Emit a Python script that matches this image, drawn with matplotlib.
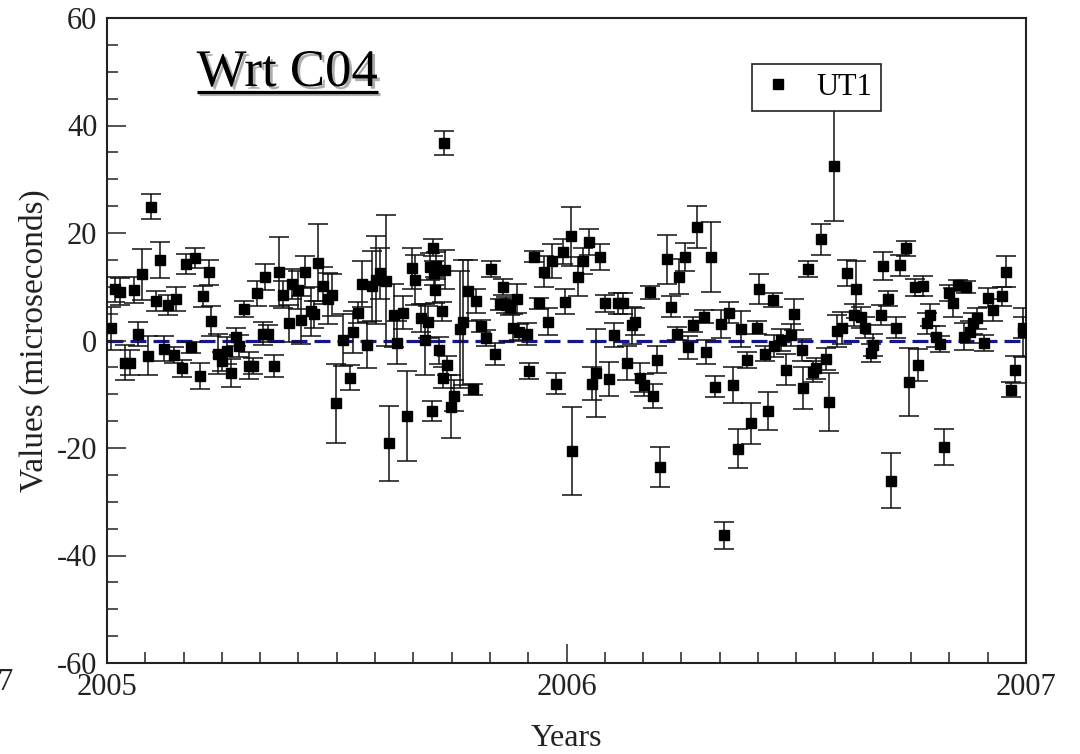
import matplotlib
matplotlib.use("Agg")
import matplotlib.pyplot as plt
import matplotlib.patheffects as pe
from matplotlib.ticker import MultipleLocator, FormatStrFormatter
from matplotlib.lines import Line2D

plt.rcParams['font.family'] = ['Liberation Serif', 'DejaVu Serif']
plt.rcParams['axes.unicode_minus'] = False

years = [
    2005.009, 2005.017, 2005.028, 2005.039, 2005.050, 2005.059, 2005.068, 2005.076, 2005.089, 2005.095,
    2005.106, 2005.115, 2005.125, 2005.133, 2005.146, 2005.150, 2005.164, 2005.173, 2005.182, 2005.192,
    2005.203, 2005.210, 2005.222, 2005.226, 2005.242, 2005.250, 2005.261, 2005.269, 2005.280, 2005.288,
    2005.299, 2005.308, 2005.317, 2005.326, 2005.339, 2005.344, 2005.351, 2005.364, 2005.374, 2005.384,
    2005.395, 2005.402, 2005.416, 2005.422, 2005.431, 2005.445, 2005.451, 2005.460, 2005.471, 2005.480,
    2005.489, 2005.498, 2005.513, 2005.529, 2005.536, 2005.547, 2005.556, 2005.566, 2005.577, 2005.585,
    2005.594, 2005.607, 2005.613, 2005.625, 2005.632, 2005.644, 2005.652, 2005.663, 2005.670, 2005.683,
    2005.691, 2005.699, 2005.703, 2005.707, 2005.709, 2005.712, 2005.714, 2005.716, 2005.723, 2005.728,
    2005.731, 2005.734, 2005.736, 2005.739, 2005.749, 2005.756, 2005.768, 2005.775, 2005.786, 2005.797,
    2005.803, 2005.814, 2005.825, 2005.836, 2005.844, 2005.855, 2005.862, 2005.868, 2005.876, 2005.883,
    2005.892, 2005.897, 2005.913, 2005.919, 2005.930, 2005.940, 2005.950, 2005.960, 2005.969, 2005.977,
    2005.992, 2005.997, 2006.010, 2006.013, 2006.026, 2006.035, 2006.049, 2006.055, 2006.064, 2006.073,
    2006.084, 2006.093, 2006.104, 2006.111, 2006.124, 2006.131, 2006.142, 2006.149, 2006.160, 2006.169,
    2006.182, 2006.188, 2006.196, 2006.203, 2006.219, 2006.227, 2006.240, 2006.245, 2006.258, 2006.265,
    2006.276, 2006.283, 2006.299, 2006.303, 2006.314, 2006.323, 2006.336, 2006.343, 2006.354, 2006.362,
    2006.374, 2006.380, 2006.392, 2006.401, 2006.414, 2006.419, 2006.432, 2006.438, 2006.449, 2006.452,
    2006.467, 2006.478, 2006.488, 2006.495, 2006.512, 2006.515, 2006.525, 2006.537, 2006.543, 2006.554,
    2006.565, 2006.572, 2006.583, 2006.589, 2006.599, 2006.611, 2006.626, 2006.630, 2006.641, 2006.650,
    2006.663, 2006.668, 2006.684, 2006.688, 2006.700, 2006.706, 2006.717, 2006.726, 2006.738, 2006.745,
    2006.758, 2006.764, 2006.775, 2006.784, 2006.791, 2006.804, 2006.813, 2006.822, 2006.832, 2006.842,
    2006.851, 2006.864, 2006.869, 2006.878, 2006.884, 2006.893, 2006.909, 2006.918, 2006.929, 2006.948,
    2006.956, 2006.967, 2006.976, 2006.993, 2006.994,
]

ut1 = [
    2.3, 9.5, 9.1, -4.1, -4.1, 9.4, 1.2, 12.3, -2.8, 24.9,
    7.4, 15.0, -1.5, 6.6, -2.7, 7.7, -5.2, 14.2, -1.3, 15.3,
    -6.6, 8.2, 12.7, 3.6, -2.5, -3.9, -1.9, -6.0, 0.7, -1.0,
    5.8, -4.7, -4.7, 8.8, 1.3, 11.8, 1.3, -4.7, 12.8, 8.5,
    3.2, 10.5, 9.4, 3.8, 12.7, 5.4, 4.9, 14.5, 10.2, 7.8,
    8.5, -11.7, 0.1, -6.9, 1.5, 5.2, 10.5, -0.8, 10.2, 11.3,
    12.5, 11.1, -19.1, 4.7, -0.4, 5.2, -14.0, 13.4, 11.3, 4.1,
    0.1, 3.4, 13.7, -13.1, 17.3, 12.5, 9.4, 13.9, -1.8, 5.4,
    -6.9, 36.8, 13.2, -4.6, -12.3, -10.3, 2.1, 3.4, 9.3, -9.1,
    7.3, 2.7, 0.4, 13.3, -2.5, 6.7, 10.0, 6.6, 6.3, 2.4,
    7.8, 1.6, 1.2, -5.6, 15.6, 6.9, 12.8, 3.5, 14.8, -8.0,
    16.5, 7.2, 19.4, -20.5, 11.9, 14.8, 18.3, -8.0, -6.0, 15.6,
    6.9, -7.2, 1.0, 6.9, 6.9, -4.2, 2.8, 3.5, -6.9, -8.3,
    9.0, -10.3, -3.6, -23.5, 15.1, 6.3, 1.3, 11.9, 15.6, -1.3,
    2.9, 21.1, 4.4, -2.1, 15.6, -8.6, 3.1, -36.2, 5.2, -8.3,
    -20.1, 2.1, -3.6, -15.4, 2.4, 9.6, -2.5, -13.1, 7.5, -1.0,
    0.1, -5.4, 1.0, 4.9, -1.8, -8.8, 13.3, -5.8, -5.2, 18.8,
    -3.4, -11.4, 32.5, 1.8, 2.3, 12.6, 4.7, 9.5, 4.3, 2.4,
    -2.3, -0.8, 4.7, 13.9, 7.8, -26.1, 2.4, 14.0, 17.2, -7.7,
    9.9, -4.6, 10.1, 3.2, 4.7, 0.7, -0.7, -19.8, 8.9, 7.0,
    10.3, 0.7, 9.9, 1.6, 3.2, 4.1, -0.4, 8.0, 5.7, 8.2,
    12.8, -9.2, -5.4, 1.5, 2.4,
]

ut1_err = [
    4.0, 2.4, 2.5, 3.3, 2.3, 2.5, 2.3, 4.7, 3.7, 2.3,
    1.9, 3.3, 2.4, 1.9, 1.5, 2.3, 1.6, 1.9, 1.1, 1.9,
    2.5, 1.9, 2.3, 2.8, 3.7, 1.7, 2.5, 2.6, 1.7, 2.0,
    1.5, 2.5, 1.5, 2.3, 2.2, 2.4, 1.5, 2.0, 6.4, 2.5,
    3.4, 2.8, 3.5, 4.5, 3.0, 4.6, 2.5, 7.2, 3.5, 4.8,
    3.9, 7.4, 4.8, 2.3, 3.9, 1.9, 4.2, 4.3, 6.5, 8.2,
    4.7, 12.2, 7.0, 5.9, 4.0, 3.0, 8.4, 3.8, 4.7, 2.6,
    6.6, 3.0, 2.5, 1.9, 1.6, 2.2, 2.5, 2.5, 2.5, 1.8,
    1.9, 2.2, 3.7, 1.8, 5.9, 2.9, 10.9, 11.6, 5.7, 1.1,
    2.2, 1.2, 1.5, 1.5, 2.0, 1.1, 1.5, 1.5, 1.5, 2.5,
    2.7, 1.5, 2.1, 1.5, 1.0, 1.0, 2.9, 2.5, 3.1, 2.0,
    2.3, 2.3, 5.5, 8.2, 3.6, 2.5, 2.4, 3.1, 8.2, 2.4,
    1.6, 3.2, 2.2, 2.0, 2.0, 3.1, 3.5, 2.5, 2.7, 2.0,
    1.2, 2.2, 2.5, 3.7, 4.5, 1.9, 1.2, 3.2, 2.6, 2.1,
    1.4, 3.9, 1.2, 2.2, 6.5, 2.0, 2.6, 2.5, 1.9, 3.3,
    3.7, 3.3, 1.5, 3.8, 1.2, 2.8, 1.4, 3.5, 1.3, 2.0,
    2.0, 2.9, 2.0, 2.9, 2.0, 3.9, 1.5, 2.0, 2.0, 2.9,
    2.0, 5.4, 10.3, 3.0, 3.0, 2.4, 2.0, 5.3, 2.0, 2.0,
    1.7, 2.0, 1.9, 2.6, 1.4, 5.1, 2.0, 2.0, 1.4, 6.3,
    1.6, 3.0, 1.9, 2.0, 2.0, 2.0, 1.5, 3.4, 1.5, 2.7,
    1.0, 2.5, 1.1, 2.0, 2.0, 2.0, 1.5, 1.8, 2.0, 1.7,
    2.9, 1.4, 2.5, 4.5, 2.0,
]

x_ticks = [2005, 2006, 2007]
series_label = "UT1"
title_text = "Wrt C04"

fig = plt.figure(figsize=(10.8, 7.54), dpi=100)
ax = fig.add_axes([107/1080, 1 - 663/754, 919/1080, 645/754])

ax.axhline(0, color='#16168c', lw=2.3, ls=(0, (5.0, 2.2)), zorder=1)
ax.errorbar(years, ut1, yerr=ut1_err, fmt='s', color='black', ecolor='#111111',
            ms=6.5, elinewidth=1.1, capsize=7.2, capthick=1.1, zorder=3)

ax.set_xlim(2005, 2007)
ax.set_ylim(-60, 60)
ax.xaxis.set_major_locator(MultipleLocator(1))
ax.xaxis.set_minor_locator(MultipleLocator(1/12))
ax.set_xticks(x_ticks)
ax.xaxis.set_major_formatter(FormatStrFormatter('%d'))
ax.yaxis.set_major_locator(MultipleLocator(20))
ax.yaxis.set_minor_locator(MultipleLocator(5))
ax.tick_params(which='both', direction='in', top=False, right=False, width=1.1,
               labelsize=22, color='#222222', labelcolor='#222222')
ax.tick_params(which='major', length=13.5, pad=7)
ax.tick_params(which='minor', length=8)
for s in ax.spines.values():
    s.set_linewidth(1.5)
    s.set_color('#222222')

ax.set_ylabel("Values (microseconds)", fontsize=24, color='#222222')
ax.yaxis.set_label_coords(-0.062, 0.5)
ax.set_xlabel("Years", fontsize=23, color='#222222')
ax.xaxis.set_label_coords(0.5, -0.094)

handle = Line2D([], [], marker='s', color='black', ls='none', ms=6.5)
leg = ax.legend([handle], [series_label], loc='upper left', bbox_to_anchor=(0.702, 0.929),
                borderaxespad=0, fontsize=22, frameon=True, fancybox=False,
                borderpad=0.3, handlelength=1.1, handletextpad=0.7, framealpha=1)
leg.get_frame().set_edgecolor('#222222')
leg.get_frame().set_linewidth(1.2)

shadow = [pe.SimplePatchShadow(offset=(2, -2), shadow_rgbFace='#999999', alpha=0.8), pe.Normal()]
txt = ax.text(0.0976, 0.8946, title_text, transform=ax.transAxes, fontsize=38,
              ha='left', va='baseline', color='black', path_effects=shadow)
fig.canvas.draw()
bb = txt.get_window_extent().transformed(ax.transAxes.inverted())
uy = 0.8946 - 5.7/645
ax.plot([bb.x0, bb.x1], [uy, uy], transform=ax.transAxes, color='black', lw=2.3,
        solid_capstyle='butt', clip_on=False,
        path_effects=[pe.SimpleLineShadow(offset=(2, -2), shadow_color='#999999', alpha=0.8), pe.Normal()])

fig.text(6/1080, 1 - 683/754, "7", fontsize=22, ha='center', va='center', color='#222222')

fig.savefig("out.png", dpi=100)
